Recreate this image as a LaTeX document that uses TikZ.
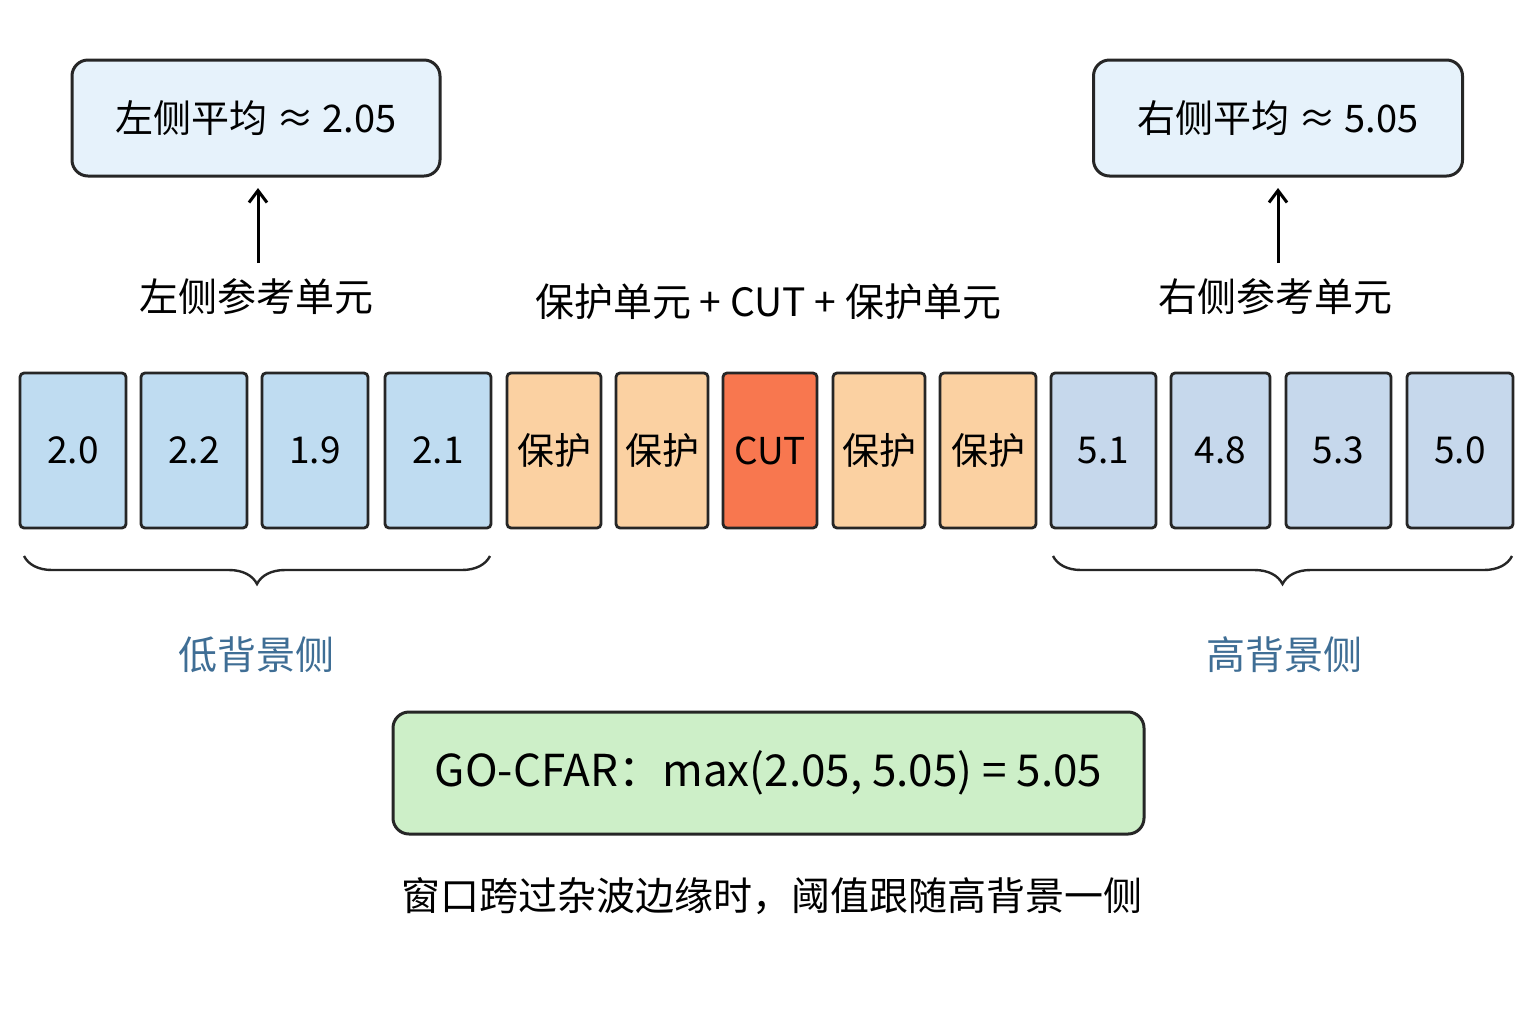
\documentclass[tikz,border=0pt]{standalone}
\usepackage{fontspec}
\setmainfont{Noto Sans CJK SC}
\usetikzlibrary{decorations.pathreplacing,arrows.meta}
\definecolor{lb}{HTML}{BFDCF1}
\definecolor{rb}{HTML}{C6D8EC}
\definecolor{gd}{HTML}{FBD1A2}
\definecolor{ct}{HTML}{F8774F}
\definecolor{tb}{HTML}{E6F2FB}
\definecolor{gb}{HTML}{CDEFC8}
\definecolor{lbl}{HTML}{3F6E95}
\begin{document}
\begin{tikzpicture}[x=0.5pt,y=-0.5pt,
 cell/.style={draw=black!85,line width=1.4pt,rounded corners=2pt,minimum height=77.5pt,inner sep=0,font=\fontsize{18.5}{20}\selectfont},
 box/.style={draw=black!85,line width=1.5pt,rounded corners=8pt,inner sep=0},
 lab/.style={font=\fontsize{19.5}{22}\selectfont},
 br/.style={decorate,decoration={brace,mirror,amplitude=14pt},line width=1.2pt,draw=black!85}]
\useasboundingbox (0,0) rectangle (1536,1024);
\fill[white] (0,0) rectangle (1536,1024);
\foreach \n/\a/\b/\c/\t in {c1/20/126/lb/2.0,c2/141/247/lb/2.2,c3/262/368/lb/1.9,c4/385/491/lb/2.1,c5/507/601/gd/保护,c6/616/708/gd/保护,c7/723/817/ct/CUT,c8/833/925/gd/保护,c9/940/1036/gd/保护,c10/1051/1156/rb/5.1,c11/1171/1270/rb/4.8,c12/1286/1391/rb/5.3,c13/1407/1513/rb/5.0}
  \node[cell,fill=\c,minimum width={(\b-\a)*0.5pt}] (\n) at ({(\a+\b)/2},450.5) {\t};
\node[box,fill=tb,minimum width=184pt,minimum height=58pt,font=\fontsize{19}{20}\selectfont] (lt) at (256,118) {左侧平均 ≈ 2.05};
\node[box,fill=tb,minimum width=184.5pt,minimum height=58pt,font=\fontsize{19}{20}\selectfont] (rt) at (1278,118) {右侧平均 ≈ 5.05};
\node[lab] (ll) at (256,297) {左侧参考单元};
\node[lab] (cl) at (768,302) {保护单元 + CUT + 保护单元};
\node[lab] (rl) at (1275,297) {右侧参考单元};
\draw[-{Straight Barb[length=6pt,width=9pt]},line width=1.5pt] (258,263) -- (258,188);
\draw[-{Straight Barb[length=6pt,width=9pt]},line width=1.5pt] (1278,263) -- (1278,188);
\coordinate (b1) at (24,556); \coordinate (b2) at (490,556);
\coordinate (b3) at (1053,556); \coordinate (b4) at (1512,556);
\draw[br] (b1) -- (b2);
\draw[br] (b3) -- (b4);
\node[lab,text=lbl] (lo) at (256,655) {低背景侧};
\node[lab,text=lbl] (hi) at (1284,655) {高背景侧};
\node[box,fill=gb,minimum width=375.5pt,minimum height=61pt,font=\fontsize{22}{24}\selectfont] (go) at (768.5,773) {GO-CFAR：max(2.05, 5.05) = 5.05};
\node[lab] (note) at (772,896) {窗口跨过杂波边缘时，阈值跟随高背景一侧};
\end{tikzpicture}
\end{document}
